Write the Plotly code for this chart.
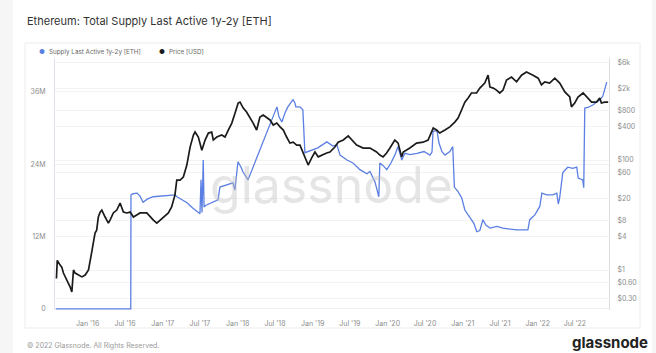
import plotly.graph_objects as go

# ---------------- data ----------------
supply_dates = [
    "2015-07-30", "2016-07-29", "2016-07-30", "2016-08-09", "2016-08-29", "2016-09-12",
    "2016-09-27", "2016-10-17", "2016-11-15", "2017-01-02", "2017-03-02", "2017-03-11",
    "2017-04-29", "2017-05-28", "2017-07-01", "2017-07-06", "2017-07-11", "2017-07-17",
    "2017-07-21", "2017-07-30", "2017-08-29", "2017-09-27", "2017-10-06", "2017-11-05",
    "2017-12-09", "2017-12-18", "2018-01-02", "2018-01-17", "2018-01-27", "2018-02-20",
    "2018-03-16", "2018-04-19", "2018-05-23", "2018-06-21", "2018-07-11", "2018-07-21",
    "2018-08-04", "2018-08-19", "2018-09-02", "2018-09-27", "2018-10-06", "2018-10-11",
    "2018-10-31", "2018-11-14", "2018-11-24", "2018-12-18", "2019-01-26", "2019-03-11",
    "2019-04-09", "2019-04-29", "2019-05-14", "2019-06-17", "2019-07-16", "2019-08-19",
    "2019-09-22", "2019-10-07", "2019-10-31", "2019-11-19", "2019-11-24", "2019-12-09",
    "2019-12-28", "2020-01-17", "2020-02-05", "2020-02-20", "2020-03-10", "2020-03-25",
    "2020-04-19", "2020-05-23", "2020-06-26", "2020-07-25", "2020-08-04", "2020-08-09",
    "2020-08-28", "2020-09-07", "2020-09-21", "2020-10-06", "2020-10-30", "2020-11-13",
    "2020-11-21", "2020-12-08", "2020-12-27", "2021-01-11", "2021-02-04", "2021-02-24",
    "2021-03-10", "2021-03-25", "2021-04-09", "2021-04-23", "2021-05-13", "2021-06-16",
    "2021-07-15", "2021-08-18", "2021-09-21", "2021-11-14", "2021-11-23", "2021-12-18",
    "2022-01-11", "2022-01-21", "2022-02-14", "2022-03-15", "2022-04-04", "2022-04-11",
    "2022-04-18", "2022-05-03", "2022-05-27", "2022-06-21", "2022-07-10", "2022-07-17",
    "2022-08-08", "2022-08-13", "2022-08-18", "2022-09-02", "2022-09-26", "2022-10-15",
    "2022-10-30", "2022-11-14", "2022-11-23", "2022-12-03",
]
supply_eth_millions = [
    0.0, 0.0, 18.9, 19.1, 19.2, 18.7,
    17.7, 18.2, 18.6, 18.7, 18.9, 18.6,
    17.6, 16.7, 15.8, 21.4, 16.0, 24.7,
    16.9, 17.2, 17.6, 18.1, 20.2, 20.5,
    20.9, 19.7, 24.4, 23.5, 22.7, 21.4,
    23.4, 26.4, 29.2, 31.8, 33.5, 31.8,
    31.0, 32.5, 33.5, 34.7, 34.2, 33.5,
    33.5, 33.0, 25.9, 26.2, 26.7, 27.7,
    27.0, 27.2, 25.5, 24.7, 24.2, 23.1,
    22.4, 22.8, 21.1, 18.6, 24.2, 23.8,
    23.1, 24.2, 25.5, 26.9, 24.7, 25.8,
    25.6, 25.8, 26.1, 25.5, 26.0, 29.4,
    29.6, 27.5, 26.1, 25.5, 26.1, 26.9,
    20.2, 19.5, 18.4, 16.4, 15.3, 14.2,
    12.8, 13.0, 14.8, 13.9, 13.4, 13.7,
    13.4, 13.2, 13.1, 13.1, 14.8, 15.6,
    17.0, 19.2, 18.9, 18.9, 19.2, 17.4,
    18.5, 22.6, 23.5, 23.3, 23.5, 21.7,
    21.4, 20.1, 33.3, 33.4, 33.8, 34.3,
    34.6, 35.3, 36.3, 37.6,
]

price_dates = [
    "2015-08-02", "2015-08-06", "2015-08-20", "2015-08-28", "2015-09-05", "2015-09-22",
    "2015-10-08", "2015-10-16", "2015-10-24", "2015-11-01", "2015-11-17", "2015-12-04",
    "2015-12-20", "2016-01-05", "2016-01-21", "2016-02-06", "2016-02-14", "2016-02-22",
    "2016-03-02", "2016-03-10", "2016-03-26", "2016-04-11", "2016-04-19", "2016-05-05",
    "2016-05-22", "2016-06-07", "2016-06-23", "2016-07-10", "2016-07-26", "2016-08-11",
    "2016-08-27", "2016-09-12", "2016-10-15", "2016-10-31", "2016-11-16", "2016-12-03",
    "2016-12-19", "2017-01-03", "2017-01-28", "2017-02-13", "2017-03-01", "2017-03-10",
    "2017-03-26", "2017-04-11", "2017-04-28", "2017-05-14", "2017-05-30", "2017-06-07",
    "2017-06-23", "2017-07-10", "2017-07-26", "2017-08-11", "2017-08-27", "2017-09-04",
    "2017-09-21", "2017-10-15", "2017-10-31", "2017-11-16", "2017-12-03", "2017-12-19",
    "2018-01-03", "2018-01-12", "2018-01-28", "2018-02-13", "2018-03-01", "2018-03-17",
    "2018-04-03", "2018-04-19", "2018-05-05", "2018-05-22", "2018-06-07", "2018-06-23",
    "2018-07-10", "2018-07-26", "2018-08-11", "2018-08-27", "2018-09-12", "2018-09-28",
    "2018-10-15", "2018-10-31", "2018-11-16", "2018-12-03", "2018-12-10", "2018-12-27",
    "2019-01-12", "2019-01-28", "2019-02-13", "2019-03-10", "2019-03-26", "2019-04-19",
    "2019-05-05", "2019-05-30", "2019-06-23", "2019-07-10", "2019-08-03", "2019-09-04",
    "2019-10-07", "2019-11-08", "2019-11-24", "2019-12-10", "2019-12-27", "2020-01-12",
    "2020-02-05", "2020-02-21", "2020-03-09", "2020-03-17", "2020-04-18", "2020-05-21",
    "2020-06-22", "2020-07-16", "2020-08-10", "2020-08-26", "2020-09-11", "2020-10-06",
    "2020-10-30", "2020-11-23", "2020-12-09", "2020-12-26", "2021-01-11", "2021-01-27",
    "2021-02-12", "2021-03-09", "2021-03-25", "2021-04-18", "2021-05-04", "2021-05-13",
    "2021-05-29", "2021-06-14", "2021-06-30", "2021-07-16", "2021-08-02", "2021-08-26",
    "2021-09-20", "2021-10-14", "2021-11-07", "2021-12-09", "2022-01-03", "2022-01-19",
    "2022-02-04", "2022-02-28", "2022-03-25", "2022-04-18", "2022-05-13", "2022-06-06",
    "2022-06-14", "2022-06-30", "2022-07-16", "2022-08-10", "2022-09-03", "2022-09-20",
    "2022-10-14", "2022-10-30", "2022-11-07", "2022-11-23", "2022-12-10",
]
price_usd = [
    0.70, 1.5, 1.23, 1.13, 0.88, 0.66,
    0.49, 0.40, 1.0, 0.88, 0.81, 0.75,
    0.81, 1.0, 2.13, 4.7, 5.3, 9.2,
    11.3, 12.3, 9.2, 7.1, 8.1, 10.9,
    12.3, 16.5, 11.3, 10.9, 11.3, 9.2,
    10.0, 10.9, 10.9, 9.2, 8.1, 7.1,
    8.1, 9.2, 10.9, 14.0, 23, 43,
    43, 49, 81, 172, 285, 323,
    262, 151, 231, 309, 323, 231,
    262, 285, 262, 351, 470, 717,
    1085, 1130, 880, 745, 605, 470,
    351, 605, 656, 580, 535, 432,
    470, 400, 351, 262, 203, 211,
    187, 187, 134, 88, 81, 109,
    140, 114, 123, 134, 140, 172,
    211, 231, 274, 231, 187, 165,
    165, 140, 123, 114, 134, 165,
    231, 203, 114, 140, 165, 203,
    211, 231, 381, 351, 309, 351,
    400, 490, 580, 811, 1130, 1345,
    1655, 1655, 2030, 2503, 3492, 2130,
    2030, 1870, 1655, 1870, 2840, 3230,
    2640, 3492, 3981, 3492, 3079, 2321,
    2640, 2503, 3079, 2503, 1728, 1400,
    925, 1085, 1400, 1655, 1345, 1130,
    1130, 1345, 1085, 1130, 1130,
]

left_tick_values = [0, 12, 24, 36]
left_tick_labels = ["0", "12M", "24M", "36M"]
right_tick_values = [0.3, 0.6, 1, 4, 8, 20, 60, 100, 400, 800, 2000, 6000]
right_tick_labels = ["$0.30", "$0.60", "$1", "$4", "$8", "$20", "$60", "$100",
                     "$400", "$800", "$2k", "$6k"]

series_names = ["Supply Last Active 1y-2y [ETH]", "Price [USD]"]
title_text = "Ethereum: Total Supply Last Active 1y-2y [ETH]"

BLUE = "#5b7fe3"
BLACK = "#1b1b1b"

# ---------------- figure ----------------
fig = go.Figure()
fig.add_trace(go.Scatter(x=supply_dates, y=supply_eth_millions, mode="lines",
                         name=series_names[0], yaxis="y",
                         line=dict(color=BLUE, width=1.3)))
fig.add_trace(go.Scatter(x=price_dates, y=price_usd, mode="lines",
                         name=series_names[1], yaxis="y2",
                         line=dict(color=BLACK, width=1.7)))

# plot area in pixels: x 55..609, y 58..310
L, R, T, B = 55, 609, 58, 310
W, H = R - L, B - T


def px(x):
    return (x - L) / W


def py(y):
    return (B - y) / H


fig.update_layout(
    width=656, height=353,
    margin=dict(l=L, r=656 - R, t=T, b=353 - B),
    paper_bgcolor="white", plot_bgcolor="white",
    showlegend=False,
    font=dict(family="Inter, 'Open Sans', sans-serif", size=7, color="#8c8c8c"),
    xaxis=dict(type="date", range=["2015-07-26", "2022-12-14"],
               tick0="2016-01-01", dtick="M6", tickformat="%b '%y",
               showgrid=False, zeroline=False, showline=False, ticks="",
               ticklabelstandoff=8),
    yaxis=dict(range=[-0.17, 41.6], tickvals=left_tick_values,
               ticktext=left_tick_labels, showgrid=True, gridcolor="#f1f1f1",
               zeroline=False, showline=True, linecolor="#dfe3f1", linewidth=1,
               ticks="", ticklabelstandoff=7),
    yaxis2=dict(type="log", range=[-0.727, 3.855], overlaying="y", side="right",
                tickvals=right_tick_values, ticktext=right_tick_labels,
                showgrid=True, gridcolor="#f3f3f3", zeroline=False,
                showline=True, linecolor="#dedede", linewidth=1,
                ticks="", ticklabelstandoff=6),
    shapes=[
        dict(type="rect", xref="paper", yref="paper",
             x0=px(0), x1=px(13), y0=py(353), y1=py(0),
             fillcolor="#f6f6f7", line=dict(width=0), layer="below"),
        dict(type="rect", xref="paper", yref="paper",
             x0=px(652), x1=px(656), y0=py(353), y1=py(0),
             fillcolor="#f6f6f7", line=dict(width=0), layer="below"),
        dict(type="rect", xref="paper", yref="paper",
             x0=px(25), x1=px(640), y0=py(328), y1=py(43),
             fillcolor="rgba(0,0,0,0)", line=dict(color="#ececec", width=1),
             layer="below"),
    ],
    annotations=[
        dict(text=title_text, xref="paper", yref="paper", x=px(25), y=py(21),
             xanchor="left", yanchor="middle", showarrow=False,
             font=dict(size=11, color="#333333")),
        dict(text="●", xref="paper", yref="paper", x=px(42), y=py(52),
             xanchor="center", yanchor="middle", showarrow=False,
             font=dict(size=6.5, color=BLUE)),
        dict(text=series_names[0], xref="paper", yref="paper", x=px(47), y=py(52),
             xanchor="left", yanchor="middle", showarrow=False,
             font=dict(size=6.3, color="#666666")),
        dict(text="●", xref="paper", yref="paper", x=px(162), y=py(52),
             xanchor="center", yanchor="middle", showarrow=False,
             font=dict(size=6.5, color=BLACK)),
        dict(text=series_names[1], xref="paper", yref="paper", x=px(167), y=py(52),
             xanchor="left", yanchor="middle", showarrow=False,
             font=dict(size=6.3, color="#666666")),
        dict(text="glassnode", xref="paper", yref="paper", x=px(331), y=py(185),
             xanchor="center", yanchor="middle", showarrow=False,
             font=dict(size=50, color="rgba(190,190,190,0.40)")),
        dict(text="© 2022 Glassnode. All Rights Reserved.", xref="paper", yref="paper",
             x=px(25), y=py(345), xanchor="left", yanchor="middle", showarrow=False,
             font=dict(size=7, color="#9a9a9a")),
        dict(text="<b>glassnode</b>", xref="paper", yref="paper", x=px(650), y=py(342),
             xanchor="right", yanchor="middle", showarrow=False,
             font=dict(size=15, color="#222222")),
    ],
)

fig.write_html("out.html")
